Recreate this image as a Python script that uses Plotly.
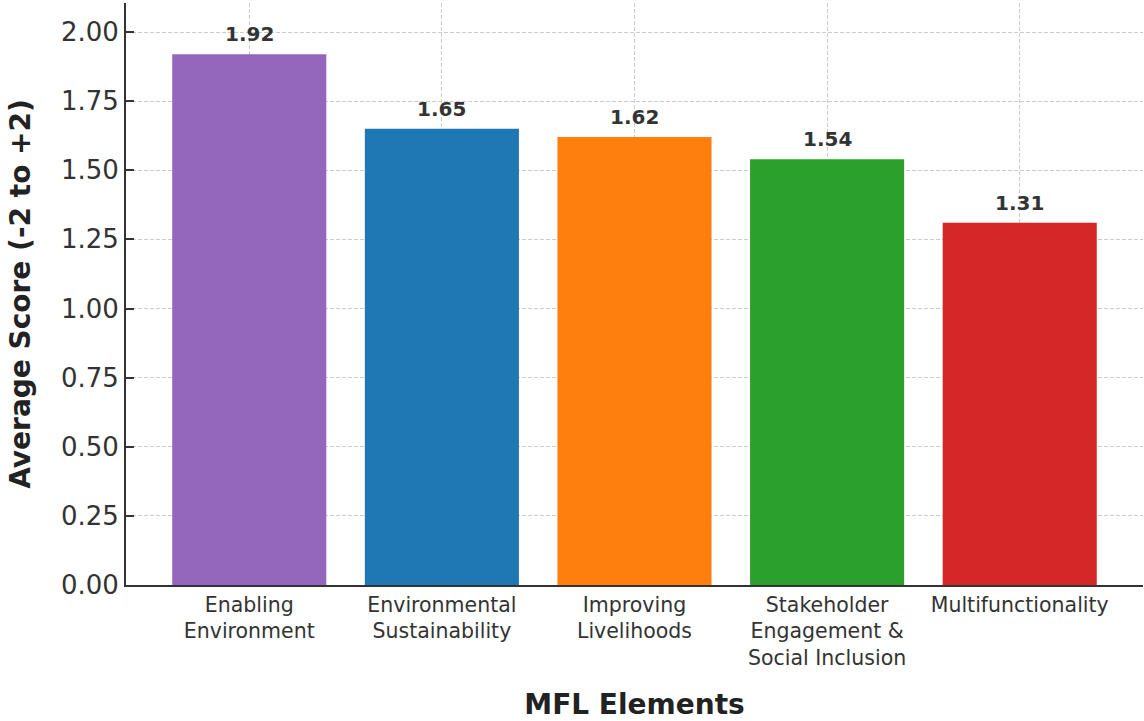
import plotly.graph_objects as go

# MFL element scores
categories = [
    "Enabling<br>Environment",
    "Environmental<br>Sustainability",
    "Improving<br>Livelihoods",
    "Stakeholder<br>Engagement &<br>Social Inclusion",
    "Multifunctionality",
]
scores = [1.92, 1.65, 1.62, 1.54, 1.31]
bar_colors = ["#9467bd", "#1f77b4", "#ff7f0e", "#2ca02c", "#d62728"]
y_ticks = [0.0, 0.25, 0.5, 0.75, 1.0, 1.25, 1.5, 1.75, 2.0]

FONT = "DejaVu Sans"
AXIS_COLOR = "#333333"
GRID_COLOR = "#cccccc"

fig = go.Figure(
    go.Bar(
        x=list(range(len(categories))),
        y=scores,
        width=0.8,
        marker=dict(color=bar_colors, line=dict(width=0)),
        hoverinfo="skip",
    )
)

# value labels above each bar
for i, v in enumerate(scores):
    fig.add_annotation(
        x=i, y=v, text=f"<b>{v:.2f}</b>", showarrow=False,
        yanchor="middle", yshift=20,
        font=dict(family=FONT, size=20, color="#333333"),
    )

fig.update_layout(
    width=1144, height=721,
    margin=dict(l=126, r=1, t=3, b=136),
    plot_bgcolor="white", paper_bgcolor="white",
    showlegend=False,
    font=dict(family=FONT, color="#333333"),
    xaxis=dict(
        range=[-0.64, 4.64],
        tickmode="array",
        tickvals=list(range(len(categories))),
        ticktext=categories,
        tickfont=dict(family=FONT, size=20.5, color="#333333"),
        ticks="", showline=True, linecolor=AXIS_COLOR, linewidth=2,
        showgrid=True, gridcolor=GRID_COLOR, griddash="4px,2px", gridwidth=1,
        zeroline=False,
        title=dict(text="<b>MFL Elements</b>", standoff=26,
                   font=dict(family=FONT, size=28, color="#222222")),
    ),
    yaxis=dict(
        range=[0, 2.105],
        tickmode="array",
        tickvals=y_ticks,
        ticktext=[f"{t:.2f}" for t in y_ticks],
        tickfont=dict(family=FONT, size=26, color="#333333"),
        ticks="inside", ticklen=8, tickwidth=1.5, tickcolor=AXIS_COLOR,
        showline=True, linecolor=AXIS_COLOR, linewidth=2,
        showgrid=True, gridcolor=GRID_COLOR, griddash="4px,2px", gridwidth=1,
        zeroline=False,
        title=dict(text="<b>Average Score (-2 to +2)</b>", standoff=22,
                   font=dict(family=FONT, size=28, color="#222222")),
    ),
)

fig.write_html("out.html")
